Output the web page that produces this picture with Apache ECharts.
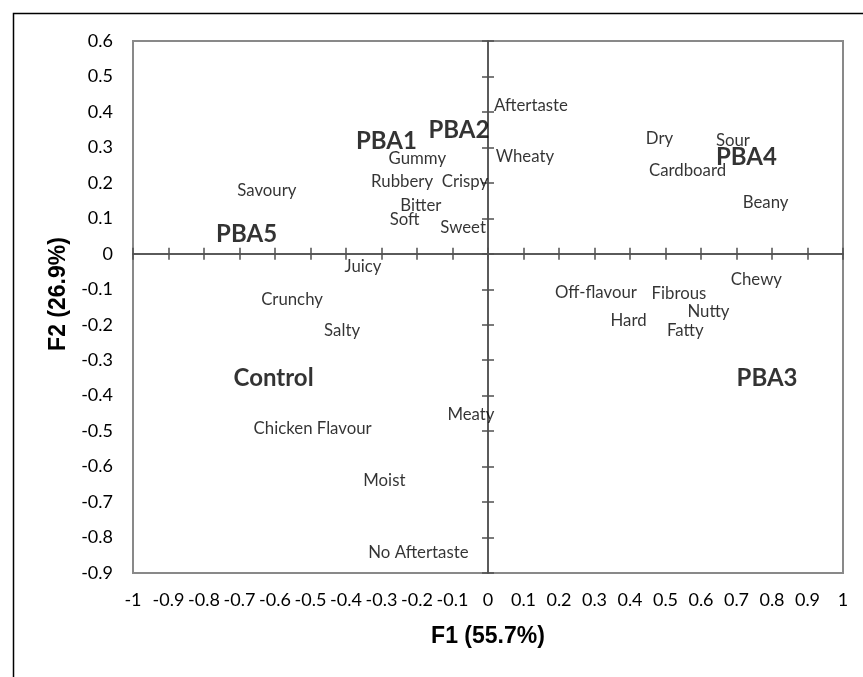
<!DOCTYPE html>
<html>
<head>
<meta charset="utf-8">
<script src="https://cdn.jsdelivr.net/npm/echarts@6/dist/echarts.min.js"></script>
<style>html,body{margin:0;padding:0;background:#fff;}#chart{width:863px;height:677px;}</style>
</head>
<body>
<div id="chart"></div>
<script>
// Products (observations)
const productNames = ['PBA1', 'PBA2', 'PBA3', 'PBA4', 'PBA5', 'Control'];
const productF1 = [-0.286, -0.082, 0.786, 0.728, -0.680, -0.604];
const productF2 = [0.316, 0.347, -0.352, 0.271, 0.056, -0.352];

// Sensory attributes (variables)
const attrNames = ['Aftertaste', 'Wheaty', 'Gummy', 'Rubbery', 'Crispy', 'Savoury', 'Bitter', 'Soft', 'Sweet',
  'Dry', 'Sour', 'Cardboard', 'Beany', 'Chewy', 'Off-flavour', 'Fibrous', 'Nutty', 'Hard', 'Fatty',
  'Juicy', 'Crunchy', 'Salty', 'Meaty', 'Chicken Flavour', 'Moist', 'No Aftertaste'];
const attrF1 = [0.121, 0.104, -0.199, -0.242, -0.065, -0.623, -0.189, -0.235, -0.070,
  0.483, 0.690, 0.562, 0.782, 0.756, 0.304, 0.538, 0.621, 0.396, 0.556,
  -0.352, -0.552, -0.411, -0.048, -0.494, -0.292, -0.196];
const attrF2 = [0.417, 0.273, 0.268, 0.203, 0.203, 0.178, 0.135, 0.096, 0.073,
  0.324, 0.319, 0.234, 0.144, -0.073, -0.110, -0.113, -0.164, -0.189, -0.217,
  -0.037, -0.130, -0.217, -0.454, -0.493, -0.640, -0.843];

const xTickLabels = ['-1','-0.9','-0.8','-0.7','-0.6','-0.5','-0.4','-0.3','-0.2','-0.1','0','0.1','0.2','0.3','0.4','0.5','0.6','0.7','0.8','0.9','1'];
const yTickLabels = ['-0.9','-0.8','-0.7','-0.6','-0.5','-0.4','-0.3','-0.2','-0.1','0','0.1','0.2','0.3','0.4','0.5','0.6'];
const xTitle = 'F1 (55.7%)';
const yTitle = 'F2 (26.9%)';

const chart = echarts.init(document.getElementById('chart'), null, {renderer: 'canvas'});

const tickFont = {color: '#000', fontSize: 18, fontFamily: 'Lato'};
const zeroLine = {color: '#505050', width: 1.5};

function zeroX(inside) {
  return {
    type: 'value', min: -1, max: 1, interval: 0.1, position: 'bottom',
    axisLine: {show: true, onZero: true, onZeroAxisIndex: 0, lineStyle: zeroLine},
    axisTick: {show: true, inside: inside, length: 6, lineStyle: zeroLine},
    axisLabel: {show: false}, splitLine: {show: false}
  };
}
function zeroY(inside) {
  return {
    type: 'value', min: -0.9, max: 0.6, interval: 0.1, position: 'left',
    axisLine: {show: true, onZero: true, onZeroAxisIndex: 0, lineStyle: zeroLine},
    axisTick: {show: true, inside: inside, length: 6, lineStyle: zeroLine},
    axisLabel: {show: false}, splitLine: {show: false}
  };
}

const option = {
  backgroundColor: '#fff',
  animation: false,
  graphic: [{
    type: 'rect', left: 11, top: 11, silent: true,
    shape: {width: 1000, height: 1000},
    style: {fill: 'none', stroke: '#000', lineWidth: 1.5}
  }],
  grid: {left: 133, top: 41, width: 710, height: 532, show: true, borderColor: '#898989', borderWidth: 2, backgroundColor: 'transparent'},
  xAxis: [{
    type: 'value', min: -1, max: 1, interval: 0.1, position: 'bottom',
    axisLine: {show: false, onZero: false}, axisTick: {show: false}, splitLine: {show: false},
    axisLabel: Object.assign({interval: 0, margin: 18, formatter: (v, i) => xTickLabels[i]}, tickFont),
    name: xTitle, nameLocation: 'middle', nameGap: 52,
    nameTextStyle: {fontFamily: 'Liberation Sans', fontWeight: 'bold', fontSize: 23, color: '#000'}
  }, zeroX(true), zeroX(false)],
  yAxis: [{
    type: 'value', min: -0.9, max: 0.6, interval: 0.1, position: 'left',
    axisLine: {show: false, onZero: false}, axisTick: {show: false}, splitLine: {show: false},
    axisLabel: Object.assign({interval: 0, margin: 20, formatter: (v, i) => yTickLabels[i]}, tickFont),
    name: yTitle, nameLocation: 'middle', nameGap: 57, nameRotate: 90,
    nameTextStyle: {fontFamily: 'Liberation Sans', fontWeight: 'bold', fontSize: 23, color: '#000', padding: [0, 0, 0, 26]}
  }, zeroY(true), zeroY(false)],
  series: [{
    type: 'scatter', xAxisIndex: 0, yAxisIndex: 0, symbolSize: 0,
    data: attrNames.map((n, i) => ({name: n, value: [attrF1[i], attrF2[i]]})),
    label: {show: true, position: 'inside', formatter: p => p.name, color: '#000', fontSize: 16.8, fontFamily: 'Lato', align: 'center', verticalAlign: 'middle'},
    emphasis: {disabled: true}
  }, {
    type: 'scatter', xAxisIndex: 0, yAxisIndex: 0, symbolSize: 0,
    data: productNames.map((n, i) => ({name: n, value: [productF1[i], productF2[i]]})),
    label: {show: true, position: 'inside', formatter: p => p.name, color: '#000', fontSize: 24, fontWeight: 'bold', fontFamily: 'Lato', align: 'center', verticalAlign: 'middle'},
    emphasis: {disabled: true}
  }]
};
chart.setOption(option);
</script>
</body>
</html>
